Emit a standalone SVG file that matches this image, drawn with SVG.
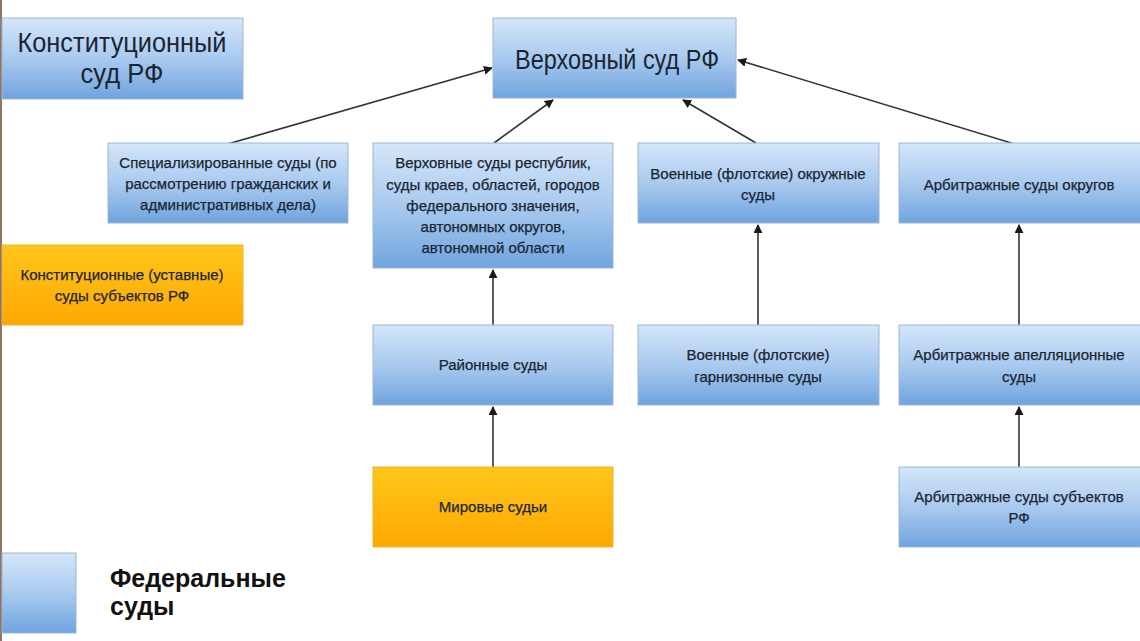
<svg xmlns="http://www.w3.org/2000/svg" width="1140" height="641" viewBox="0 0 1140 641">
<defs>
<linearGradient id="blue" x1="0" y1="0" x2="0" y2="1">
<stop offset="0" stop-color="#d4e6f9"/>
<stop offset="0.5" stop-color="#a9caef"/>
<stop offset="1" stop-color="#6fa4de"/>
</linearGradient>
<linearGradient id="orange" x1="0" y1="0" x2="0" y2="1">
<stop offset="0" stop-color="#ffc61a"/>
<stop offset="1" stop-color="#fda803"/>
</linearGradient>
<marker id="ah" viewBox="0 0 10 10" refX="9" refY="5" markerWidth="9" markerHeight="9" markerUnits="userSpaceOnUse" orient="auto">
<path d="M0,0 L10,5 L0,10 z" fill="#1a1a1a"/>
</marker>
</defs>
<style>
.b{fill:url(#blue);stroke:#9fb6cf;stroke-width:1}
.o{fill:url(#orange);stroke:#e8b43a;stroke-width:1}
text{font-family:"Liberation Sans",Arial,sans-serif;fill:#1b2532;text-anchor:middle}
.s{font-size:15px;stroke:#1b2532;stroke-width:0.25}
.big{font-size:27px}
.leg{font-size:25px;font-weight:bold;text-anchor:start;fill:#111}
.c{stroke:#333;stroke-width:1.6;fill:none;marker-end:url(#ah)}
</style>
<rect x="0" y="0" width="1140" height="641" fill="#ffffff"/>
<rect x="0" y="0" width="2" height="641" fill="#8f7268"/>

<g id="connectors">
<line class="c" x1="224" y1="145" x2="492" y2="68"/>
<line class="c" x1="494" y1="143" x2="553" y2="100"/>
<line class="c" x1="756" y1="143" x2="683" y2="100"/>
<line class="c" x1="1018" y1="145" x2="738" y2="60"/>
<line class="c" x1="493" y1="325" x2="493" y2="270"/>
<line class="c" x1="493" y1="467" x2="493" y2="407"/>
<line class="c" x1="758" y1="325" x2="758" y2="225"/>
<line class="c" x1="1019" y1="325" x2="1019" y2="225"/>
<line class="c" x1="1019" y1="467" x2="1019" y2="407"/>
</g>

<g id="konst-rf">
<rect class="b" x="2" y="18" width="241" height="81"/>
<text class="big" x="122" y="52" textLength="209" lengthAdjust="spacingAndGlyphs">Конституционный</text>
<text class="big" x="122" y="83" textLength="83" lengthAdjust="spacingAndGlyphs">суд РФ</text>
</g>

<g id="verh-rf">
<rect class="b" x="493" y="18" width="243" height="80"/>
<text class="big" x="617" y="69" textLength="204" lengthAdjust="spacingAndGlyphs">Верховный суд РФ</text>
</g>

<g id="spec">
<rect class="b" x="108" y="143" width="240" height="80"/>
<text class="s" x="228" y="168">Специализированные суды (по</text>
<text class="s" x="228" y="189">рассмотрению гражданских и</text>
<text class="s" x="228" y="210">административных дела)</text>
</g>

<g id="verh-resp">
<rect class="b" x="373" y="143" width="240" height="125"/>
<text class="s" x="493" y="168">Верховные суды республик,</text>
<text class="s" x="493" y="190">суды краев, областей, городов</text>
<text class="s" x="493" y="211">федерального значения,</text>
<text class="s" x="493" y="232">автономных округов,</text>
<text class="s" x="493" y="253">автономной области</text>
</g>

<g id="voen-okr">
<rect class="b" x="638" y="143" width="241" height="80"/>
<text class="s" x="758" y="179">Военные (флотские) окружные</text>
<text class="s" x="758" y="200">суды</text>
</g>

<g id="arb-okr">
<rect class="b" x="899" y="143" width="245" height="80"/>
<text class="s" x="1019" y="190">Арбитражные суды округов</text>
</g>

<g id="konst-subj">
<rect class="o" x="2" y="245" width="241" height="80"/>
<text class="s" x="122" y="280">Конституционные (уставные)</text>
<text class="s" x="122" y="301">суды субъектов РФ</text>
</g>

<g id="rayon">
<rect class="b" x="373" y="325" width="240" height="80"/>
<text class="s" x="493" y="370">Районные суды</text>
</g>

<g id="voen-garn">
<rect class="b" x="638" y="325" width="241" height="80"/>
<text class="s" x="758" y="360">Военные (флотские)</text>
<text class="s" x="758" y="382">гарнизонные суды</text>
</g>

<g id="arb-apel">
<rect class="b" x="899" y="325" width="245" height="80"/>
<text class="s" x="1019" y="360">Арбитражные апелляционные</text>
<text class="s" x="1019" y="382">суды</text>
</g>

<g id="mirovye">
<rect class="o" x="373" y="467" width="240" height="80"/>
<text class="s" x="493" y="512">Мировые судьи</text>
</g>

<g id="arb-subj">
<rect class="b" x="899" y="467" width="245" height="80"/>
<text class="s" x="1019" y="502">Арбитражные суды субъектов</text>
<text class="s" x="1019" y="523">РФ</text>
</g>

<g id="legend">
<rect class="b" x="2" y="553" width="74" height="80"/>
<text class="leg" x="110" y="587">Федеральные</text>
<text class="leg" x="110" y="615">суды</text>
</g>
</svg>
